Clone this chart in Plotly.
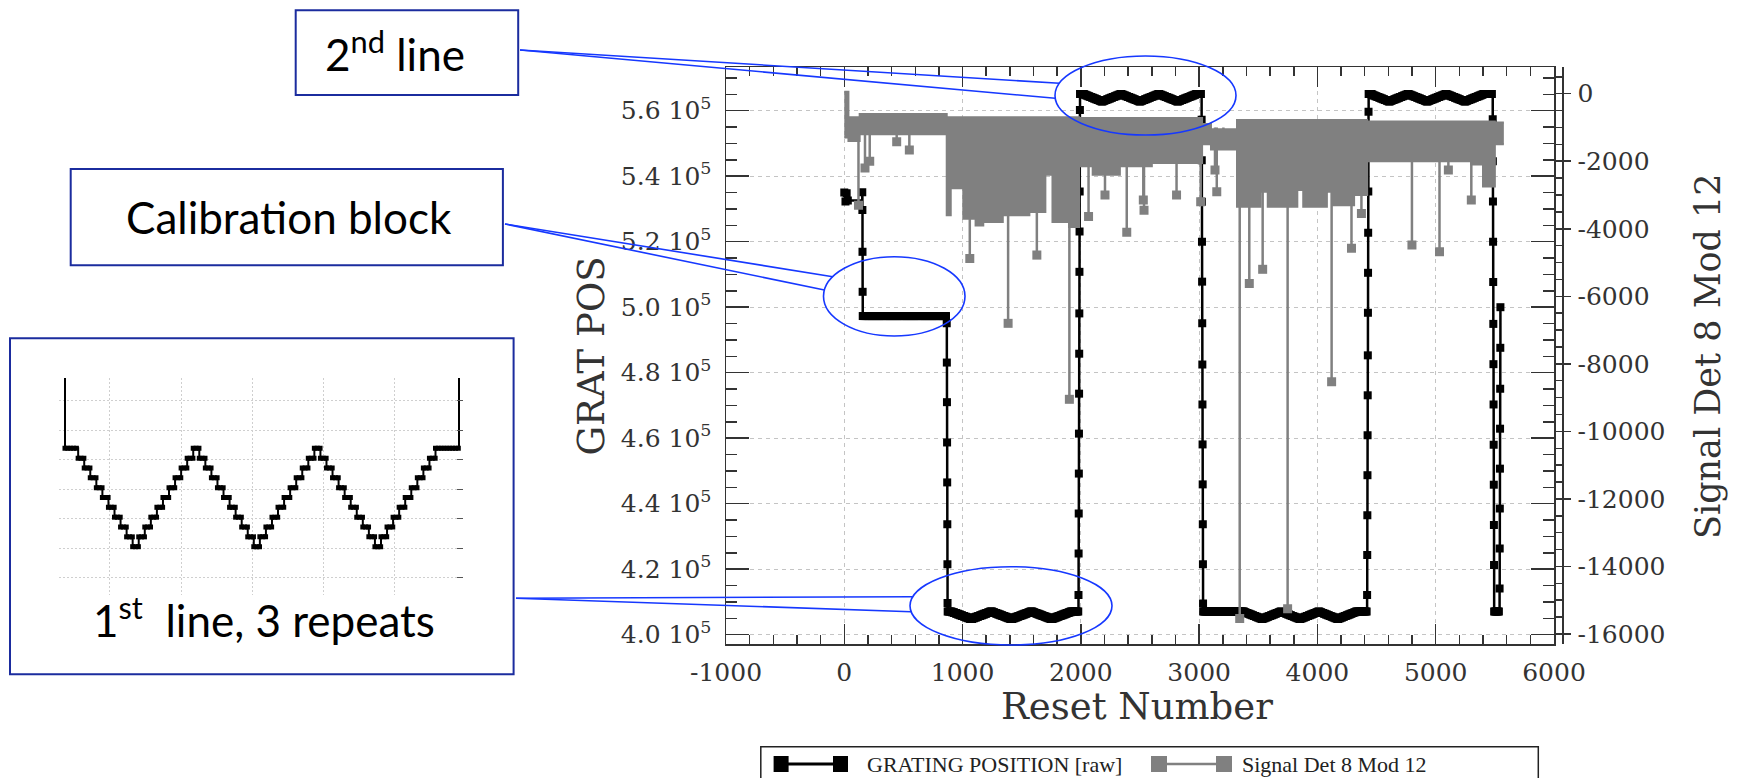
import plotly.graph_objects as go

W, H = 1760, 778

# ---------------- axis ticks ----------------
reset_ticks = [-1000, 0, 1000, 2000, 3000, 4000, 5000, 6000]
reset_ticktext = ['-1000', '0', '1000', '2000', '3000', '4000', '5000', '6000']
grat_ticks = [400000, 420000, 440000, 460000, 480000, 500000, 520000, 540000, 560000]
grat_ticktext = ['4.0 10<sup>5</sup>', '4.2 10<sup>5</sup>', '4.4 10<sup>5</sup>', '4.6 10<sup>5</sup>',
                 '4.8 10<sup>5</sup>', '5.0 10<sup>5</sup>', '5.2 10<sup>5</sup>', '5.4 10<sup>5</sup>',
                 '5.6 10<sup>5</sup>']
signal_ticks = [0, -2000, -4000, -6000, -8000, -10000, -12000, -14000, -16000]
signal_ticktext = ['0', '-2000', '-4000', '-6000', '-8000', '-10000', '-12000', '-14000', '-16000']

# ---------------- GRATING POSITION [raw] ----------------
# start-up cluster (reset number, position)
startup_x = [0, 10, 20, 30]
startup_y = [535000, 532300, 534800, 532600]

# run-length records from reset 152 on: position and number of resets it is held
cal_levels = [535100, 529700, 516900, 504700, 497300]
cal_hold = [1, 1, 1, 1, 710]
rampA = [495100, 483100, 471000, 458700, 446500, 433700, 421500, 409700]
rampB = [412100, 424800, 437000, 449200, 461400, 473600, 485800, 498100, 510800, 523100, 535300, 547500, 560200]
rampC = [557200, 544900, 532200, 520000, 507800, 495100, 482500, 470300, 458100, 445900, 433700, 421500, 409500]
rampD = [412100, 424300, 436500, 448700, 460900, 473100, 485300, 498300, 510500, 522700, 535300, 547500, 559700]
rampE = [557400, 544600, 532300, 520000, 507700, 494900, 482600, 470300, 458000, 445800, 433500, 421300]
rampF = [414100, 426300, 438500, 450700, 462900, 475100, 487600, 500000]
bottom_level = 407100
bottom_hold = 46

# one scan line: grating step index (3 repeats)
scan_steps = [0, 1, 2, 3, 4, 5, 6, 7, 8, 9, 10, 9, 8, 7, 6, 5, 4, 3, 2, 1,
              0, 1, 2, 3, 4, 5, 6, 7, 8, 9, 10, 9, 8, 7, 6, 5, 4, 3, 2, 1,
              0, 1, 2, 3, 4, 5, 6, 7, 8, 9, 10, 9, 8, 7, 6, 5, 4, 3, 2, 1, 0]
line_top = [407100, 565100, 407100, 565100]
line_step = [230, 230, 230, 230]
line_hold0 = [37, 38, 350, 26]
line_dwell = [17, 16, 16, 16]
line_hold1 = [66, 46, 92, 79]

# ---------------- Signal Det 8 Mod 12 ----------------
band_x = [0, 35, 130, 866,
          900, 1006, 1110, 1175,
          1340, 1565, 1700, 1760,
          1900, 1985, 2100, 2330,
          2600, 3025, 3100, 3320,
          3520, 3580, 3830, 3880,
          4080, 4130, 4310, 4420,
          5300, 5400, 5500, 5576]
band_top = [60, -700, -600, -700,
            -700, -700, -700, -700,
            -700, -700, -700, -700,
            -700, -720, -720, -720,
            -720, -900, -1050, -780,
            -780, -780, -780, -780,
            -780, -780, -780, -820,
            -820, -820, -850, -850]
band_bot = [-1300, -1400, -1200, -3600,
            -2800, -3700, -3900, -3800,
            -3600, -3500, -2400, -3800,
            -3950, -2150, -2400, -2150,
            -2050, -1500, -1650, -3350,
            -2900, -3350, -2850, -3350,
            -2900, -3300, -3000, -2000,
            -2100, -2750, -1500, -1500]
spike_x = [120, 175, 215, 443, 550, 1061, 1385, 1628, 1903, 2065, 2204, 2388, 2528, 2534,
           2809, 3013, 3134, 3149, 3205, 3343, 3424, 3537, 3748, 4120, 4288, 4372, 4799,
           5032, 5107, 5301]
spike_y = [-3300, -2200, -2000, -1420, -1670, -4880, -6800, -4780, -9050, -3640, -3000, -4100, -3150, -3450,
           -3000, -3200, -2260, -2900, -1520, -15540, -5620, -5200, -15250, -8530, -4580, -3550, -4480,
           -4680, -2260, -3150]
spike_base = -1000

# ---------------- build grating series from the run records ----------------
runs = list(zip(cal_levels, cal_hold)) + [(v, 1) for v in rampA]
ramps_after = [rampB, rampC, rampD, rampE]
for k in range(4):
    holds = [line_hold0[k]] + [line_dwell[k]] * (len(scan_steps) - 2) + [line_hold1[k]]
    levels = [line_top[k] - line_step[k] * s for s in scan_steps]
    runs += list(zip(levels, holds))
    runs += [(v, 1) for v in ramps_after[k]]
runs += [(bottom_level, bottom_hold)] + [(v, 1) for v in rampF]

SAMPLE = 8
gx, gy = list(startup_x), list(startup_y)
xpos = 152
for lv, n in runs:
    k = 0
    while k < n:
        gx.append(xpos + k)
        gy.append(lv)
        k += SAMPLE
    xpos += n

stem_x, stem_y = [], []
for sx, sy in zip(spike_x, spike_y):
    stem_x += [sx, sx, None]
    stem_y += [spike_base, sy, None]

BLACK = '#000000'
GRAY = '#808080'
AX = '#333333'

fig = go.Figure()
fig.add_trace(go.Scatter(x=gx, y=gy, mode='lines+markers', line=dict(color=BLACK, width=2.5, shape='hv'),
                         marker=dict(symbol='square', size=8, color=BLACK), xaxis='x', yaxis='y',
                         name='GRATING POSITION [raw]'))
fig.add_trace(go.Scatter(x=band_x, y=band_bot, mode='lines', line=dict(color=GRAY, width=2, shape='hv'),
                         xaxis='x', yaxis='y2'))
fig.add_trace(go.Scatter(x=band_x, y=band_top, mode='lines', line=dict(color=GRAY, width=2, shape='hv'),
                         fill='tonexty', fillcolor=GRAY, xaxis='x', yaxis='y2', name='Signal Det 8 Mod 12'))
fig.add_trace(go.Scatter(x=stem_x, y=stem_y, mode='lines', line=dict(color=GRAY, width=2.5),
                         xaxis='x', yaxis='y2'))
fig.add_trace(go.Scatter(x=spike_x, y=spike_y, mode='markers', marker=dict(symbol='square', size=9, color=GRAY),
                         xaxis='x', yaxis='y2'))
# inset: zoom on the first scan line
fig.add_trace(go.Scatter(x=gx, y=gy, mode='lines+markers', line=dict(color=BLACK, width=2, shape='hv'),
                         marker=dict(symbol='square', size=5, color=BLACK), xaxis='x2', yaxis='y3'))


def X(px):
    return px / W


def Y(py):
    return 1 - py / H


tickfont = dict(family='DejaVu Serif', size=25, color=AX)
fig.update_layout(
    width=W, height=H, margin=dict(l=0, r=0, t=0, b=0, autoexpand=False),
    paper_bgcolor='white', plot_bgcolor='white', showlegend=False, hovermode=False,
    xaxis=dict(domain=[X(726), X(1554)], range=[-1000, 6000], anchor='y',
               tickmode='array', tickvals=reset_ticks, ticktext=reset_ticktext,
               ticks='inside', ticklen=20, tickwidth=1.5, tickcolor=AX,
               minor=dict(dtick=200, tick0=0, ticks='inside', ticklen=9, tickwidth=1.5, tickcolor=AX, showgrid=False),
               showline=True, linecolor=AX, linewidth=1.5, mirror='ticks',
               showgrid=True, gridcolor='#c4c4c4', griddash='4px,4px', gridwidth=1,
               zeroline=False, tickfont=tickfont, ticklabelstandoff=5),
    yaxis=dict(domain=[Y(644.3), Y(67.3)], range=[397070, 573250], anchor='x',
               tickmode='array', tickvals=grat_ticks, ticktext=grat_ticktext,
               ticks='inside', ticklen=23, tickwidth=1.5, tickcolor=AX,
               minor=dict(dtick=5000, tick0=0, ticks='inside', ticklen=11, tickwidth=1.5, tickcolor=AX, showgrid=False),
               showline=True, linecolor=AX, linewidth=1.5, mirror='ticks',
               showgrid=True, gridcolor='#c4c4c4', griddash='4px,4px', gridwidth=1,
               zeroline=False, tickfont=tickfont, ticklabelstandoff=8),
    yaxis2=dict(overlaying='y', side='right', anchor='free', position=X(1562), range=[-16305, 782],
                tickmode='array', tickvals=signal_ticks, ticktext=signal_ticktext,
                ticks='outside', ticklen=7, tickwidth=1.5, tickcolor=AX,
                minor=dict(dtick=500, tick0=0, ticks='inside', ticklen=7, tickwidth=1.5, tickcolor=AX, showgrid=False),
                showline=True, linecolor=AX, linewidth=1.5, showgrid=False, zeroline=False,
                tickfont=tickfont, ticklabelstandoff=2),
    xaxis2=dict(domain=[X(59), X(462.5)], range=[857.2, 1989.8], anchor='y3',
                showgrid=True, gridcolor='#cfcfcf', griddash='2px,2px', gridwidth=1,
                tick0=0, dtick=200, ticks='', showticklabels=False, showline=False, zeroline=False),
    yaxis3=dict(domain=[Y(595), Y(378)], range=[403671, 408743], anchor='x2', side='right',
                showgrid=True, gridcolor='#cfcfcf', griddash='2px,2px', gridwidth=1,
                tick0=404763, dtick=690, ticks='inside', ticklen=6, tickcolor='#555',
                showticklabels=False, showline=False, zeroline=False),
)

shapes = []
annos = []
BOXC = '#1b2c9e'
CALL = '#1638ff'

# callout boxes
for (x0, y0, x1, y1) in [(295.7, 10.3, 518.2, 95.0), (70.7, 169.0, 502.9, 265.3), (10.0, 338.3, 513.6, 674.3)]:
    shapes.append(dict(type='rect', xref='paper', yref='paper', x0=X(x0), x1=X(x1), y0=Y(y1), y1=Y(y0),
                       line=dict(color=BOXC, width=2), fillcolor='rgba(0,0,0,0)'))
# ellipses
for (x0, y0, x1, y1) in [(1055, 56, 1236, 135), (823.5, 256.7, 965, 336), (910, 566.7, 1112, 645)]:
    shapes.append(dict(type='circle', xref='paper', yref='paper', x0=X(x0), x1=X(x1), y0=Y(y1), y1=Y(y0),
                       line=dict(color=CALL, width=1.6)))
# connector lines
for (xa, ya, xb, yb) in [(520, 50, 1059.4, 83.3), (520, 50, 1055.2, 98.3),
                         (505, 224, 832.8, 276.7), (505, 224, 824.4, 290),
                         (516, 598.3, 912.8, 596.7), (516, 598.3, 911.1, 611.7)]:
    shapes.append(dict(type='line', xref='paper', yref='paper', x0=X(xa), y0=Y(ya), x1=X(xb), y1=Y(yb),
                       line=dict(color=CALL, width=1.6)))

callfont = dict(family='Lato', size=44, color='black')
annos.append(dict(text='2<sup>nd</sup> line', x=X(395), y=Y(52), xref='paper', yref='paper',
                  showarrow=False, font=callfont, xanchor='center', yanchor='middle'))
annos.append(dict(text='Calibration block', x=X(289), y=Y(217), xref='paper', yref='paper',
                  showarrow=False, font=callfont, xanchor='center', yanchor='middle'))
annos.append(dict(text='1<sup>st</sup>&nbsp; line, 3 repeats', x=X(264), y=Y(617), xref='paper', yref='paper',
                  showarrow=False, font=callfont, xanchor='center', yanchor='middle'))

# axis titles
titlefont = dict(family='DejaVu Serif', size=37, color=AX)
annos.append(dict(text='GRAT POS', x=X(591), y=Y(356.5), xref='paper', yref='paper', textangle=-90,
                  showarrow=False, font=titlefont, xanchor='center', yanchor='middle'))
annos.append(dict(text='Signal Det 8 Mod 12', x=X(1708), y=Y(356), xref='paper', yref='paper', textangle=-90,
                  showarrow=False, font=dict(family='DejaVu Serif', size=35, color=AX),
                  xanchor='center', yanchor='middle'))
annos.append(dict(text='Reset Number', x=X(1136.5), y=Y(706), xref='paper', yref='paper',
                  showarrow=False, font=titlefont, xanchor='center', yanchor='middle'))

# legend (drawn)
shapes.append(dict(type='rect', xref='paper', yref='paper', x0=X(760.8), x1=X(1538.3), y0=Y(800), y1=Y(746.7),
                   line=dict(color='#222', width=1.5), fillcolor='rgba(0,0,0,0)'))
for (xa, xb, col, lw, sqs) in [(781, 841, BLACK, 3, [(773.6, 788.6), (833, 848)]),
                               (1160, 1224, GRAY, 2.5, [(1151, 1167), (1216, 1232)])]:
    shapes.append(dict(type='line', xref='paper', yref='paper', x0=X(xa), x1=X(xb), y0=Y(764), y1=Y(764),
                       line=dict(color=col, width=lw)))
    for (s0, s1) in sqs:
        shapes.append(dict(type='rect', xref='paper', yref='paper', x0=X(s0), x1=X(s1), y0=Y(772), y1=Y(756),
                           line=dict(width=0), fillcolor=col))
legfont = dict(family='Liberation Serif', size=22, color='#222')
annos.append(dict(text='GRATING POSITION [raw]', x=X(865), y=Y(764), xref='paper', yref='paper',
                  showarrow=False, font=legfont, xanchor='left', yanchor='middle'))
annos.append(dict(text='Signal Det 8 Mod 12', x=X(1240), y=Y(764), xref='paper', yref='paper',
                  showarrow=False, font=legfont, xanchor='left', yanchor='middle'))

fig.update_layout(shapes=shapes, annotations=annos)
fig.write_html('out.html', config={'displayModeBar': False, 'staticPlot': True},
               post_script="document.body.style.margin='0px';document.body.style.overflow='hidden';")
